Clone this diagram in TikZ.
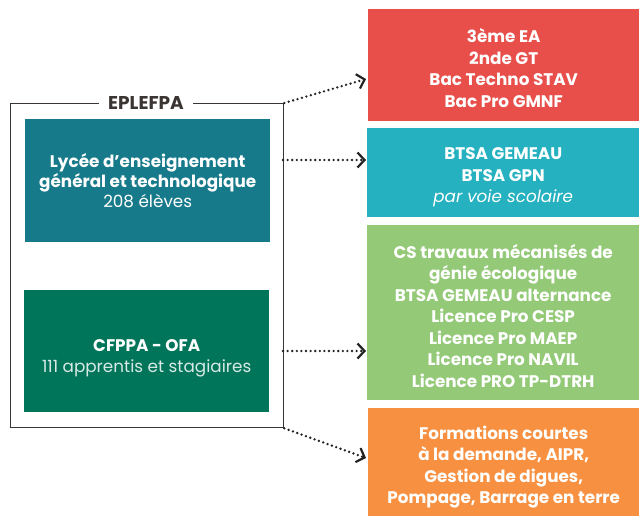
\documentclass[tikz,border=0pt]{standalone}
\usepackage{fontspec}
\setmainfont{Poppins}
\usetikzlibrary{arrows.meta}
\definecolor{cred}{HTML}{E84F4B}
\definecolor{ccyan}{HTML}{25B1BF}
\definecolor{clgreen}{HTML}{93C977}
\definecolor{corange}{HTML}{F79040}
\definecolor{cteal}{HTML}{177A8A}
\definecolor{cdgreen}{HTML}{00755A}
\definecolor{cframe}{HTML}{3A3533}
\definecolor{carrow}{HTML}{222222}
\begin{document}
\begin{tikzpicture}[x=1pt,y=-1pt,
  box/.style={rectangle,inner sep=0pt,anchor=north west,text=white,align=center,
    font=\fontsize{16.8}{21.5}\selectfont\bfseries},
  boxtext/.style={text=white,align=center,inner sep=0pt,font=\fontsize{16.8}{21.5}\selectfont},
  conn/.style={draw=carrow,line width=2.6pt,dash pattern=on 0pt off 4.6pt,line cap=round,
    -{Straight Barb[length=7pt,width=15pt,line width=2.2pt,line cap=butt]}},
  framebox/.style={draw=cframe,line width=1.3pt,rectangle,inner sep=0pt,anchor=north west}]
\useasboundingbox (0,0) rectangle (639,516);
% frame
\node[framebox,minimum width=273pt,minimum height=324pt] (frame) at (10,103) {};
\node[fill=white,inner xsep=9pt,inner ysep=2pt,text=cframe,font=\fontsize{18.5}{20}\selectfont\bfseries] (title) at (146,103) {EPLEFPA};
% left boxes
\node[box,fill=cteal,minimum width=245pt,minimum height=123pt] (lyc) at (25,119) {};
\node[boxtext,font=\fontsize{16.8}{20.2}\selectfont] (lyct) at ([yshift=0pt]lyc.center) {\textbf{Lycée d’enseignement}\\\textbf{général et technologique}\\208 élèves};
\node[box,fill=cdgreen,minimum width=245pt,minimum height=122pt] (cfp) at (24,290) {};
\node[boxtext] (cfpt) at ([yshift=-7pt]cfp.center) {\textbf{CFPPA - OFA}\\{\color{white!85!cdgreen}111 apprentis et stagiaires}};
% right boxes
\node[box,fill=cred,minimum width=271pt,minimum height=112pt] (red) at (368,9) {};
\node[box,anchor=center] (redt) at ([yshift=-3pt]red.center) {3ème EA\\2nde GT\\Bac Techno STAV\\Bac Pro GMNF};
\node[box,fill=ccyan,minimum width=272pt,minimum height=89pt] (cyan) at (367,128) {};
\node[boxtext] (cyant) at ([yshift=-5pt]cyan.center) {\textbf{BTSA GEMEAU}\\\textbf{BTSA GPN}\\\itshape par voie scolaire};
\node[box,fill=clgreen,minimum width=272pt,minimum height=175pt] (lg) at (367,225) {};
\node[box,anchor=center] (lgt) at ([yshift=-3pt]lg.center) {CS travaux mécanisés de\\génie écologique\\BTSA GEMEAU alternance\\Licence Pro CESP\\Licence Pro MAEP\\Licence Pro NAVIL\\Licence PRO TP-DTRH};
\node[box,fill=corange,minimum width=271pt,minimum height=108pt] (or) at (368,408) {};
\node[box,anchor=center] (ort) at ([yshift=-5pt]or.center) {Formations courtes\\à la demande, AIPR,\\Gestion de digues,\\Pompage, Barrage en terre};
% connectors
\coordinate (s2) at (283,160);
\coordinate (s3) at (283,351);
\coordinate (e1) at (366,79);
\coordinate (e2) at (366,160);
\coordinate (e3) at (366,351);
\coordinate (e4) at (366,458);
\draw[conn] (frame.north east) -- (e1);
\draw[conn] (s2) -- (e2);
\draw[conn] (s3) -- (e3);
\draw[conn] (frame.south east) -- (e4);
\end{tikzpicture}
\end{document}
